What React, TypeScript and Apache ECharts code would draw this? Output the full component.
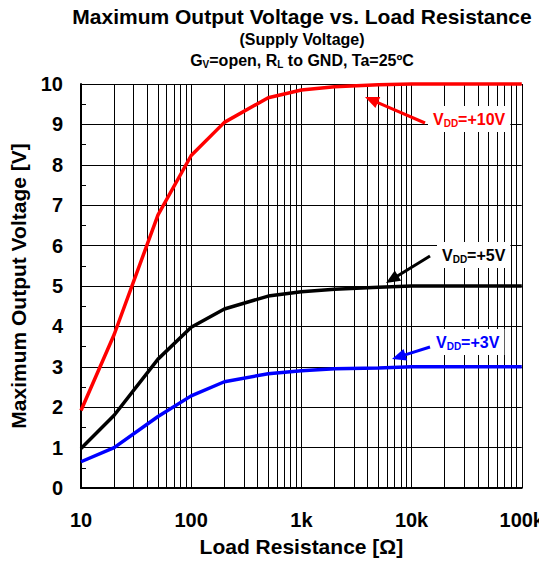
import React, { useEffect, useRef } from "react";
import * as echarts from "echarts";

const loadResistance = [10, 20, 50, 100, 200, 500, 1000, 2000, 5000, 10000, 100000];
const vdd10 = [1.92, 3.8, 6.76, 8.23, 9.05, 9.66, 9.85, 9.93, 9.98, 10, 10];
const vdd5 = [0.98, 1.8, 3.19, 3.98, 4.43, 4.75, 4.86, 4.92, 4.97, 5, 5];
const vdd3 = [0.65, 1.0, 1.77, 2.28, 2.63, 2.83, 2.9, 2.95, 2.97, 3, 3];
const xTickLabels: Record<string, string> = { "10": "10", "100": "100", "1000": "1k", "10000": "10k", "100000": "100k" };
const decades = [10, 100, 1000, 10000];
const minorMultipliers = [2, 3, 4, 5, 6, 7, 8, 9];

const FONT = "'Liberation Sans', Arial, sans-serif";

function arrow(tail: [number, number], tip: [number, number], color: string) {
  const dx = tip[0] - tail[0];
  const dy = tip[1] - tail[1];
  const len = Math.hypot(dx, dy);
  const ux = dx / len, uy = dy / len;
  const nx = -uy, ny = ux;
  const L = 14, W = 6;
  const bx = tip[0] - ux * L, by = tip[1] - uy * L;
  return [
    {
      type: "line",
      shape: { x1: tail[0], y1: tail[1], x2: bx + ux * 2, y2: by + uy * 2 },
      style: { stroke: color, lineWidth: 3 },
      z: 10,
    },
    {
      type: "polygon",
      shape: { points: [tip, [bx + nx * W, by + ny * W], [bx - nx * W, by - ny * W]] },
      style: { fill: color },
      z: 10,
    },
  ];
}

function label(x: number, y: number, sup: string, color: string) {
  return {
    type: "text",
    x,
    y,
    z: 11,
    style: {
      text: `{a|V}{b|DD}{a|${sup}}`,
      fill: color,
      backgroundColor: "#fff",
      padding: [4, 5, 4, 5],
      align: "left",
      verticalAlign: "middle",
      rich: {
        a: { fontFamily: FONT, fontWeight: "bold", fontSize: 16, lineHeight: 18, fill: color },
        b: { fontFamily: FONT, fontWeight: "bold", fontSize: 10, lineHeight: 8, verticalAlign: "bottom", fill: color },
      },
    },
  };
}

export default function App() {
  const ref = useRef<HTMLDivElement>(null);
  useEffect(() => {
    if (!ref.current) return;
    const chart = echarts.init(ref.current, undefined, { renderer: "svg" });
    const mk = (vals: number[]) => vals.map((v, i) => [loadResistance[i], v]);
    const minorLines: any[] = [];
    decades.forEach((d) => minorMultipliers.forEach((m) => minorLines.push({ xAxis: d * m })));
    chart.setOption({
      animation: false,
      backgroundColor: "#fff",
      grid: { left: 81, right: 23, top: 84, bottom: 78, containLabel: false },
      xAxis: {
        type: "log",
        logBase: 10,
        min: 10,
        max: 100000,
        name: "Load Resistance [Ω]",
        nameLocation: "middle",
        nameGap: 48,
        nameTextStyle: { fontFamily: FONT, fontWeight: "bold", fontSize: 21, color: "#000" },
        axisLine: { show: true, lineStyle: { color: "#000", width: 2 } },
        axisTick: { show: false },
        axisLabel: {
          fontFamily: FONT,
          fontWeight: "bold",
          fontSize: 20,
          color: "#000",
          margin: 22,
          formatter: (v: number) => xTickLabels[String(Math.round(v))] ?? "",
        },
        splitLine: { show: true, lineStyle: { color: "#000", width: 1 } },
      },
      yAxis: {
        type: "value",
        min: 0,
        max: 10,
        interval: 1,
        name: "Maximum Output Voltage [V]",
        nameLocation: "middle",
        nameGap: 52,
        nameTextStyle: { fontFamily: FONT, fontWeight: "bold", fontSize: 21, color: "#000" },
        axisLine: { show: true, lineStyle: { color: "#000", width: 2 } },
        axisTick: { show: true, inside: true, length: 5, lineStyle: { color: "#000" } },
        minorTick: { show: true, splitNumber: 2, length: 5, lineStyle: { color: "#000" } },
        axisLabel: { fontFamily: FONT, fontWeight: "bold", fontSize: 20, color: "#000", margin: 18 },
        splitLine: { show: true, lineStyle: { color: "#000", width: 1 } },
      },
      graphic: [
        {
          type: "text",
          x: 302,
          y: 16,
          style: {
            text: "Maximum Output Voltage vs. Load Resistance",
            font: `bold 21px ${FONT}`,
            fill: "#000",
            align: "center",
            verticalAlign: "middle",
          },
        },
        {
          type: "text",
          x: 302,
          y: 39,
          style: {
            text: "(Supply Voltage)",
            font: `bold 16px ${FONT}`,
            fill: "#000",
            align: "center",
            verticalAlign: "middle",
          },
        },
        {
          type: "text",
          x: 302,
          y: 60,
          style: {
            text: "{a|G}{b|V}{a|=open, R}{b|L}{a| to GND, Ta=25ºC}",
            fill: "#000",
            align: "center",
            verticalAlign: "middle",
            rich: {
              a: { fontFamily: FONT, fontWeight: "bold", fontSize: 16, lineHeight: 18 },
              b: { fontFamily: FONT, fontWeight: "bold", fontSize: 10, lineHeight: 8, verticalAlign: "bottom" },
            },
          },
        },
        ...arrow([425, 123], [365, 97], "#ff0000"),
        label(428, 119, "=+10V", "#ff0000"),
        ...arrow([430, 256], [386, 283], "#000000"),
        label(437, 255, "=+5V", "#000000"),
        ...arrow([430, 347], [392, 359], "#0000ff"),
        label(431, 342, "=+3V", "#0000ff"),
      ],
      series: [
        {
          type: "line",
          data: [],
          silent: true,
          markLine: {
            silent: true,
            symbol: "none",
            label: { show: false },
            lineStyle: { color: "#000", width: 1, type: "solid" },
            data: minorLines,
          },
        },
        { type: "line", data: mk(vdd10), showSymbol: false, clip: false, lineStyle: { color: "#ff0000", width: 3.5 }, z: 5 },
        { type: "line", data: mk(vdd5), showSymbol: false, clip: false, lineStyle: { color: "#000000", width: 3.5 }, z: 5 },
        { type: "line", data: mk(vdd3), showSymbol: false, clip: false, lineStyle: { color: "#0000ff", width: 3.5 }, z: 5 },
      ],
    });
    return () => chart.dispose();
  }, []);
  return <div ref={ref} style={{ width: 547, height: 566, margin: -8 }} />;
}
